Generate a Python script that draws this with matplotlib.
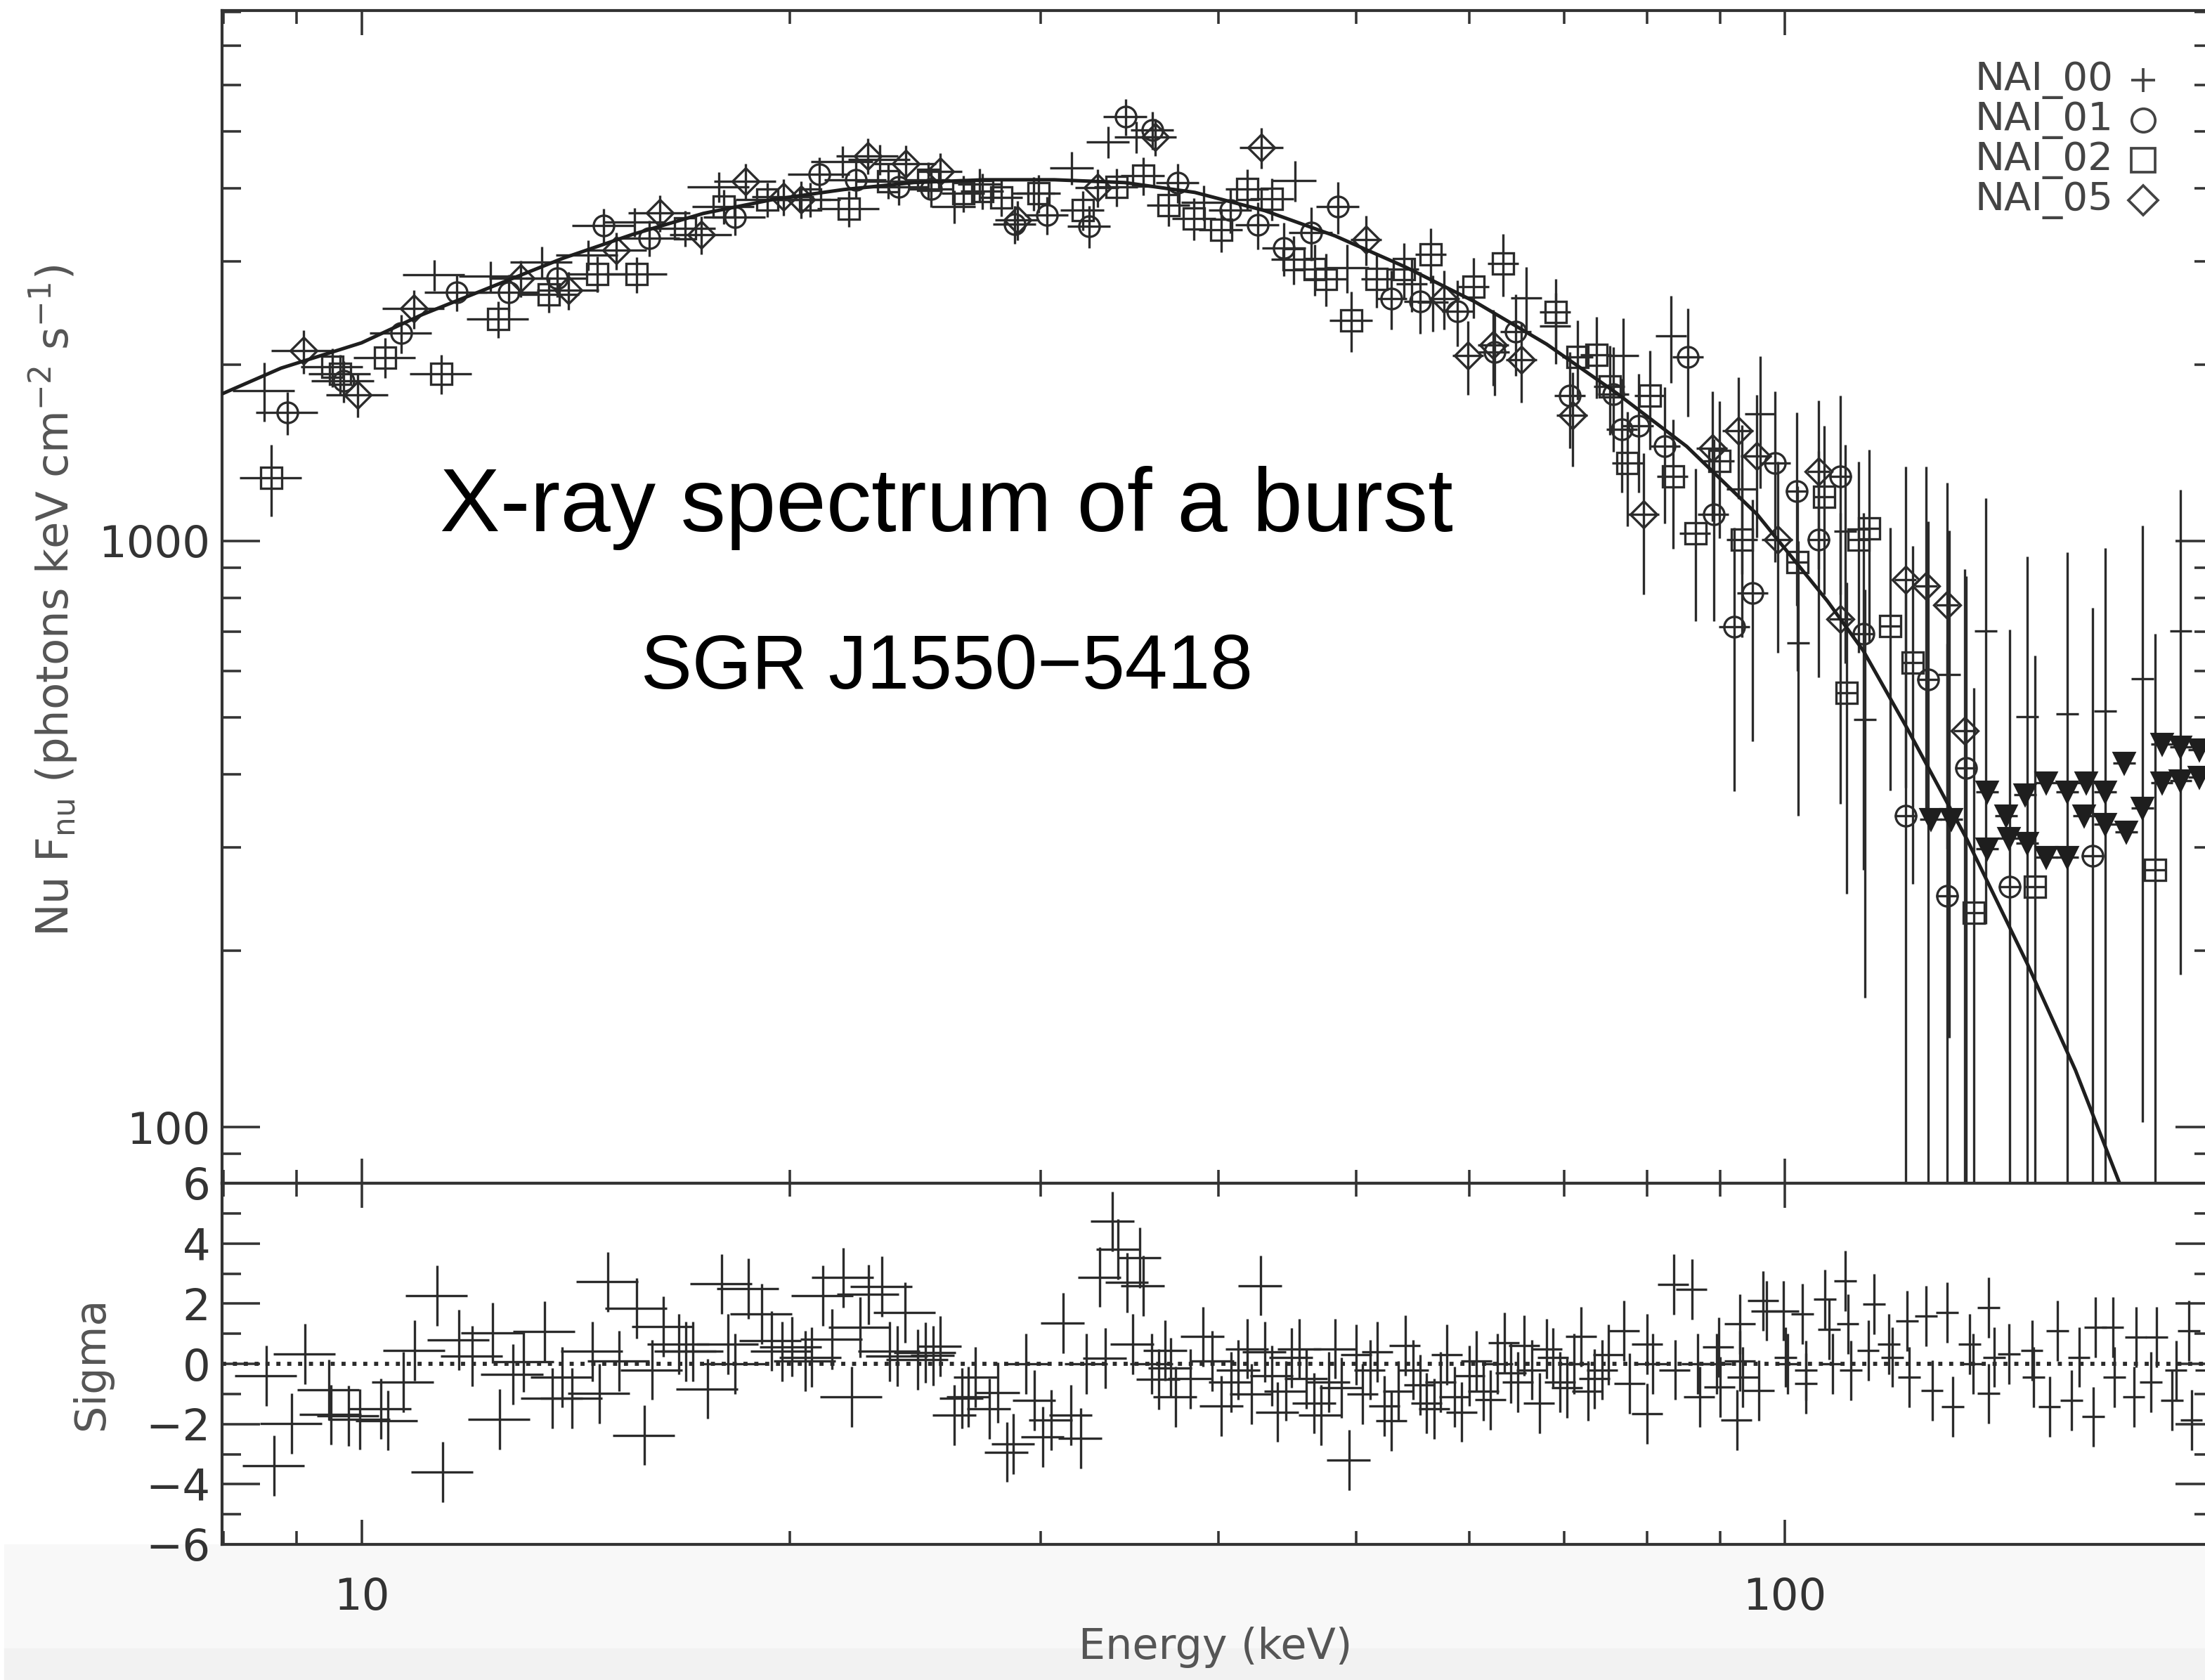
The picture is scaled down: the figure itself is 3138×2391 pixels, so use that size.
import numpy as np
import matplotlib
matplotlib.use("Agg")
import matplotlib.pyplot as plt
from matplotlib.patches import Rectangle
from matplotlib.ticker import FuncFormatter, NullFormatter, MultipleLocator

# ---- data (energy keV, Nu Fnu, error) ----
# NAI_00  (+)
e00 = [8.54, 11.25, 12.32, 13.39, 14.42, 15.55, 17.82, 21.77, 23.13, 26.08,
       27.18, 29.65, 31.55, 33.46, 35.02, 39.04, 45.26, 49.26, 54.67, 56.6,
       65.8, 69.0, 77.0, 83.2, 93.3, 96.1, 102.2, 110.3, 113.8, 130.5,
       138.4, 148.0, 157.9, 167.9, 178.4, 189.7]
f00 = [1807, 2844, 2833, 2995, 3075, 3500, 4023, 4441, 4478, 3721,
       4060, 3922, 4332, 4798, 4892, 3784, 4122, 2927, 2746, 2557,
       2600, 2327, 2070, 2240, 1227, 1648, 670, 1039, 496, 592,
       702, 501, 507, 512, 582, 702]
d00 = [210, 170, 170, 180, 180, 200, 240, 270, 270, 240,
       260, 260, 280, 300, 310, 260, 330, 280, 290, 280,
       330, 320, 330, 380, 350, 420, 330, 420, 330, 450,
       480, 440, 450, 460, 480, 520]

# NAI_01  (circle)
e01 = [8.87, 9.71, 10.66, 11.66, 12.69, 13.72, 14.80, 15.92, 18.29, 20.98,
       22.25, 23.85, 25.13, 28.76, 30.30, 32.45, 34.41, 35.94, 37.45, 40.78,
       42.6, 44.48, 46.45, 48.52, 52.92, 55.40, 58.88, 62.5, 64.7, 70.6,
       75.8, 76.8, 78.9, 82.3, 85.5, 89.1, 92.1, 94.9, 98.4, 101.9,
       105.6, 109.4, 113.5, 121.6, 126.0, 130.0, 134.0, 143.9, 164.5]
f01 = [1656, 1874, 2262, 2656, 2656, 2808, 3450, 3287, 3571, 4226,
       4134, 4023, 3986, 3473, 3600, 3445, 5300, 5028, 4088, 3670,
       3464, 3162, 3360, 3721, 2593, 2564, 2466, 2100, 2273, 1770,
       1780, 1550, 1570, 1450, 2060, 1110, 714, 815, 1360, 1215,
       1005, 1290, 695, 340, 580, 248, 410, 257, 290]
d01 = [140, 150, 170, 190, 190, 200, 240, 230, 250, 290,
       290, 280, 280, 260, 270, 280, 380, 370, 320, 320,
       320, 330, 350, 380, 300, 310, 320, 330, 360, 330,
       360, 340, 360, 380, 430, 380, 340, 360, 440, 440,
       420, 480, 420, 480, 500, 420, 460, 450, 480]

# NAI_02  (square)
e02 = [8.64, 9.54, 9.66, 10.39, 11.38, 12.47, 13.54, 14.65, 15.6, 16.88,
       17.97, 19.28, 20.67, 22.0, 23.44, 25.02, 26.48, 27.30, 28.14, 29.91,
       32.1, 33.9, 35.40, 36.89, 38.45, 40.16, 41.9, 43.62, 45.16, 46.75,
       47.57, 49.58, 51.67, 53.97, 56.37, 60.41, 63.4, 69.0, 71.5, 73.7,
       75.3, 77.5, 80.4, 83.4, 86.5, 89.9, 93.3, 102.0, 106.6, 110.5,
       112.6, 114.6, 118.6, 122.9, 135.7, 149.8, 182.0]
f02 = [1281, 1982, 1929, 2057, 1929, 2391, 2631, 2855, 2850, 3416,
       3721, 3825, 3825, 3691, 4111, 4134, 3922, 3954, 3857, 3922,
       3670, 4023, 4203, 3742, 3550, 3398, 3990, 3836, 3026, 2911,
       2801, 2380, 2801, 2911, 3085, 2717, 2976, 2460, 2060, 2080,
       1835, 1360, 1770, 1290, 1030, 1370, 1005, 920, 1190, 550,
       1005, 1051, 715, 620, 232, 257, 275]
d02 = [180, 150, 150, 160, 150, 170, 180, 200, 200, 240,
       250, 260, 260, 260, 280, 290, 280, 280, 280, 290,
       280, 300, 310, 300, 290, 290, 320, 320, 290, 290,
       290, 280, 300, 310, 330, 320, 360, 340, 320, 330,
       320, 300, 340, 320, 300, 360, 320, 320, 380, 300,
       360, 380, 340, 360, 330, 380, 420]

# NAI_05  (diamond)
e05 = [9.10, 9.94, 10.88, 12.94, 13.97, 15.10, 16.20, 17.33, 18.61, 19.79,
       20.35, 22.69, 24.11, 25.51, 28.88, 32.88, 36.1, 42.88, 50.78, 57.6,
       59.9, 62.4, 65.3, 70.9, 79.6, 88.9, 92.7, 95.5, 98.8, 105.6,
       109.4, 121.5, 125.7, 130.0, 133.8]
f05 = [2111, 1773, 2491, 2808, 2679, 3132, 3631, 3333, 4111, 3868,
       3825, 4541, 4405, 4273, 3532, 4010, 4892, 4693, 3268, 2593,
       2073, 2160, 2040, 1640, 1110, 1440, 1540, 1395, 1005, 1315,
       736, 859, 838, 778, 475]
d05 = [180, 150, 190, 200, 200, 230, 260, 250, 290, 280,
       280, 320, 320, 310, 270, 300, 360, 380, 320, 300,
       300, 320, 320, 300, 300, 360, 360, 380, 360, 420,
       380, 480, 500, 480, 420]

# upper limits (filled triangles)
e_ul = [126.6, 130.9, 138.7, 138.7, 143.0, 143.6, 147.5, 148.0, 152.6, 152.6,
        157.9, 157.9, 162.8, 162.3, 167.9, 167.9, 173.1, 173.7, 178.4, 184.0,
        184.0, 189.7, 189.7, 195.6, 195.6]
f_ul = [335, 335, 373, 298, 340, 311, 369, 305, 387, 289,
        373, 289, 387, 340, 373, 329, 418, 319, 350, 387,
        450, 390, 445, 395, 440]

# fitted model curve
e_model = [8.0, 8.78, 10.0, 11.03, 12.35, 13.84, 15.50, 17.38, 19.46, 21.81,
           24.43, 27.37, 30.67, 34.36, 38.49, 43.12, 48.3, 54.1, 60.6, 68.0,
           76.1, 85.3, 95.6, 107.1, 113.5, 121.8, 134.2, 148.0, 160.0, 172.0]
f_model = [1787, 1972, 2178, 2433, 2716, 3034, 3334, 3621, 3825, 3977,
           4088, 4133, 4133, 4088, 3933, 3660, 3315, 2935, 2557, 2167,
           1790, 1450, 1110, 790, 650, 480, 310, 190, 125, 79.7]

# residuals (sigma)
e_res = [8.57, 8.68, 8.93, 9.13, 9.49, 9.52, 9.79, 9.97, 10.32, 10.43,
         10.7, 10.9, 11.3, 11.4, 11.7, 11.96, 12.36, 12.5, 12.77, 12.99,
         13.45, 13.62, 13.83, 14.06, 14.53, 14.7, 14.9, 15.17, 15.6, 15.8,
         16.0, 16.3, 16.7, 16.9, 17.1, 17.5, 17.9, 18.1, 18.3, 18.7,
         19.1, 19.4, 19.75, 20.05, 20.5, 20.7, 21.1, 21.4, 21.8, 22.1,
         22.4, 22.7, 23.2, 23.5, 23.8, 24.1, 24.6, 24.9, 25.2, 25.5,
         26.1, 26.4, 26.7, 27.0, 27.6, 28.0, 28.4, 28.7, 29.3, 29.7,
         30.1, 30.5, 31.1, 31.5, 32.0, 32.3, 33.0, 33.3, 33.7, 34.0,
         34.5, 34.8, 35.2, 35.4, 35.9, 36.3, 36.7, 37.0, 37.3, 38.2,
         39.0, 39.6, 40.2, 40.8, 41.3, 41.9, 42.2, 42.8, 43.1, 43.6,
         44.0, 44.6, 45.0, 45.6, 46.1, 46.7, 47.2, 47.8, 48.3, 48.8,
         49.4, 50.0, 50.5, 51.1, 51.7, 52.3, 52.9, 53.5, 54.1, 54.8,
         55.4, 56.0, 56.7, 57.3, 57.9, 58.6, 59.3, 60.0, 60.7, 61.4,
         62.1, 62.8, 63.5, 64.2, 64.9, 65.6, 66.4, 67.2, 68.0, 68.7,
         69.5, 70.3, 71.1, 71.9, 72.7, 73.5, 74.4, 75.2, 77.1, 77.8,
         80.0, 80.0, 80.7, 83.5, 83.7, 86.0, 86.8, 87.1, 89.5, 89.8,
         90.0, 92.5, 93.0, 93.0, 93.4, 95.9, 96.5, 97.1, 99.8, 100.1,
         100.4, 102.9, 103.5, 103.5, 106.7, 107.4, 108.0, 110.3, 110.7, 111.3,
         114.4, 115.5, 118.3, 119.0, 121.9, 122.3, 125.7, 126.9, 130.0, 131.2,
         134.8, 135.6, 139.0, 139.0, 140.3, 143.7, 149.1, 149.5, 153.4, 155.4,
         159.0, 160.9, 164.7, 165.2, 169.9, 170.4, 175.8, 176.4, 180.8, 182.5,
         187.1, 188.2, 192.3, 193.0, 197.8]
s_res = [-0.40, -3.39, -1.98, 0.33, -0.87, -1.69, -1.73, -1.84, -1.49, -1.88,
         -0.6, 0.45, 2.26, -3.6, 0.8, 0.26, 1.03, -1.84, -0.35, 0.06,
         1.07, -1.14, -0.44, -1.14, 0.41, -0.99, 2.72, 0.1, 1.85, -2.37,
         -0.2, 1.23, 0.65, 0.41, 0.41, -0.83, 2.65, 0.66, 0.0, 2.5,
         1.66, 0.76, 0.41, 0.57, 0.1, 0.22, 2.26, 0.82, 2.86, -1.09,
         1.21, 2.3, 2.57, 0.41, 0.26, 1.71, 0.14, 0.37, 0.27, 0.58,
         -1.71, -1.14, -1.1, -0.44, -1.49, -0.95, -2.93, -2.66, 0.0, -1.22,
         -2.43, -1.87, 1.36, -1.71, -2.47, 0.0, 2.88, 0.19, 4.73, 3.8,
         2.7, 0.66, 3.53, 2.59, 0.0, -0.52, 0.45, -0.13, -1.1, -0.5,
         0.9, 0.1, -1.4, -0.6, -0.2, 0.5, -1.0, 2.6, 0.4, -0.4,
         -1.6, -0.9, 0.2, 0.5, -0.5, -1.3, -1.7, -0.6, 0.5, -0.8,
         -3.2, 0.3, -1.0, -0.2, 0.4, -1.4, -1.9, -0.9, 0.6, -0.2,
         -0.7, -1.3, -1.5, -0.6, 0.3, -1.1, -1.6, -0.4, 0.1, -0.9,
         -1.2, 0.0, 0.7, -0.3, -0.6, 0.6, -0.2, -1.3, 0.5, 0.2,
         -0.6, -0.8, 0.0, 0.9, -0.9, -0.5, -0.2, 0.3, 1.1, -0.66,
         0.66, -1.65, 0.0, 2.64, -0.2, 2.47, 0.0, -1.1, 0.0, 0.55,
         -0.77, -1.87, 1.32, 0.1, -0.44, -0.88, 2.09, 1.76, 1.76, 0.22,
         0.0, 1.65, -0.22, -0.66, 2.14, 1.15, 0.0, 2.75, 1.32, -0.22,
         0.44, 1.98, 0.66, 0.22, 1.43, -0.44, 1.59, -0.88, 1.70, -1.43,
         0.66, 0.0, 1.87, -0.99, 0.22, 0.33, 0.44, -0.44, -1.43, 1.1,
         -1.21, 0.22, -1.76, 1.21, 1.21, -0.44, -1.1, 0.88, -0.6, 0.88,
         -1.21, -0.22, 1.1, -1.87, -0.22]

detectors = ["NAI_00", "NAI_01", "NAI_02", "NAI_05"]


def halfwidth(e):
    # approximate half width of the energy channels
    e = np.asarray(e, float)
    frac = np.select([e < 25, e < 50, e < 100], [0.05, 0.035, 0.025], 0.018)
    return e * frac


ink = "#2b2b2b"
W, H = 3138, 2391
fig = plt.figure(figsize=(W / 300, H / 300), dpi=300)
plt.rcParams["font.family"] = ["DejaVu Sans"]

# grey strip of the slide below the plot (kept behind the axes)
fig.patches.append(Rectangle((8 / W, 0), 1, 191 / H, transform=fig.transFigure,
                             color="#f8f8f8", zorder=-10))
fig.patches.append(Rectangle((8 / W, 0), 1, 43 / H, transform=fig.transFigure,
                             color="#f2f2f2", zorder=-9))

ax = fig.add_axes([316 / W, 1 - 1684 / H, 2834 / W, 1669 / H])
axr = fig.add_axes([316 / W, 1 - 2198 / H, 2834 / W, 514 / H], sharex=ax)

ebar = dict(ecolor=ink, elinewidth=0.8, capsize=0, mec=ink, mfc="none",
            ms=7, mew=0.8, zorder=3)
ax.errorbar(e00, f00, yerr=d00, xerr=halfwidth(e00), fmt="none", **ebar)
ax.errorbar(e01, f01, yerr=d01, xerr=halfwidth(e01), fmt="o", **ebar)
ax.errorbar(e02, f02, yerr=d02, xerr=halfwidth(e02), fmt="s", **ebar)
ax.errorbar(e05, f05, yerr=d05, xerr=halfwidth(e05), fmt="D", **{**ebar, "ms": 6.5})
ax.errorbar(e_ul, f_ul, xerr=halfwidth(e_ul), fmt="v", ecolor=ink,
            elinewidth=0.8, color="#1e1e1e", ms=6.5, zorder=4)
ax.plot(e_model, f_model, color="#1e1e1e", lw=1.2, zorder=5)

ax.set_xscale("log")
ax.set_yscale("log", nonpositive="clip")
ax.set_xlim(7.98, 200)
ax.set_ylim(80.2, 8035)

axr.errorbar(e_res, s_res, yerr=1.0, xerr=halfwidth(e_res), fmt="none",
             ecolor=ink, elinewidth=0.8, capsize=0, zorder=3)
axr.axhline(0, color=ink, ls=":", lw=1.4, zorder=2)
axr.set_ylim(-6, 6)
axr.yaxis.set_major_locator(MultipleLocator(2))
axr.yaxis.set_minor_locator(MultipleLocator(1))

plain = FuncFormatter(lambda v, p: f"{v:g}")
for a in (ax, axr):
    for s in a.spines.values():
        s.set_color("#333333")
        s.set_linewidth(1.0)
    a.tick_params(which="both", direction="in", top=True, right=True,
                  colors="#333333", width=0.85, labelsize=15)
    a.tick_params(axis="x", which="major", length=8.5, pad=11)
    a.tick_params(axis="x", which="minor", length=4.5)
    a.tick_params(axis="y", which="major", length=13, pad=4)
    a.tick_params(axis="y", which="minor", length=6.5)
    a.xaxis.set_minor_formatter(NullFormatter())
ax.yaxis.set_major_formatter(plain)
ax.yaxis.set_minor_formatter(NullFormatter())
axr.xaxis.set_major_formatter(plain)
ax.tick_params(labelbottom=False)

# axis titles
grey = "#555555"
fig.text(76 / W, 1 - 855 / H,
         r"Nu F$_{\mathdefault{nu}}$ (photons keV cm$^{\mathdefault{-2}}$ s$^{\mathdefault{-1}}$)",
         rotation=90, ha="center", va="center", fontsize=15, color=grey)
fig.text(130 / W, 1 - 1940 / H, "Sigma", rotation=90, ha="center",
         va="center", fontsize=14.5, color=grey)
fig.text(1730 / W, 1 - 2344 / H, "Energy (keV)", ha="center", va="center",
         fontsize=14.5, color=grey)

# legend, drawn by hand like the original
marks = ["+", "o", "s", "D"]
for i, (name, m) in enumerate(zip(detectors, marks)):
    y = 1 - (114 + 57 * i) / H
    fig.text(2810 / W, y, name, ha="left", va="center", fontsize=13.5,
             color="#444444")
    ax.plot([3050 / W], [y], marker=m, ms=8 if m != "D" else 7, mfc="none",
            mec="#444444", mew=0.9, transform=fig.transFigure, clip_on=False)

# slide captions
fig.text(626 / W, 1 - 756 / H, "X-ray spectrum of a burst",
         family="Liberation Sans", fontsize=30.8, color="black", va="baseline")
fig.text(912 / W, 1 - 980 / H, "SGR J1550\u22125418",
         family="Liberation Sans", fontsize=26.2, color="black", va="baseline")

fig.savefig("out.png", dpi=300)
